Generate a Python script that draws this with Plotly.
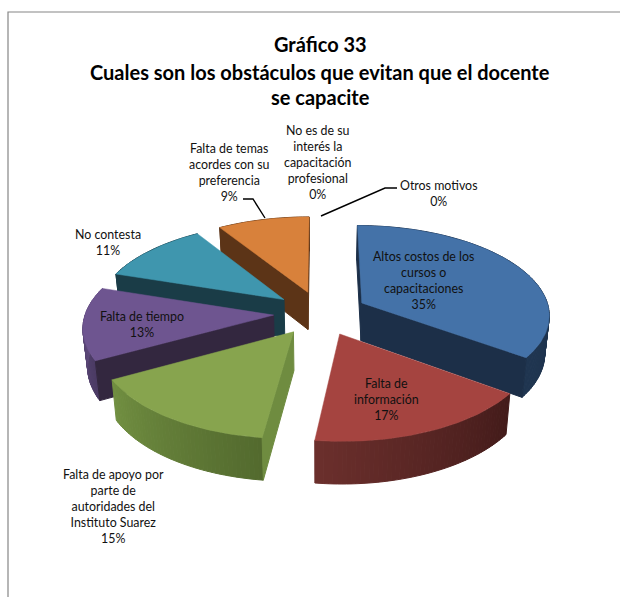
import numpy as np
import plotly.graph_objects as go

# Survey shares, clockwise from twelve o'clock
categories = [
    "Altos costos de los<br>cursos o<br>capacitaciones",
    "Falta de<br>información",
    "Falta de apoyo por<br>parte de<br>autoridades del<br>Instituto Suarez",
    "Falta de tiempo",
    "No contesta",
    "Falta de temas<br>acordes con su<br>preferencia",
    "No es de su<br>interés la<br>capacitación<br>profesional",
    "Otros motivos",
]
values = [35, 17, 15, 13, 11, 9, 0, 0]
top_colors = ["#4472a8", "#a54440", "#87a44e", "#6e5590", "#3f96ae", "#d8813b"]
side_colors = ["#1c2f48", "#47201e", "#6f8c40", "#33273f", "#1a3c47", "#5c3417"]
wall_dark = ["#1c2f48", "#431b1a", "#536a2e", "#4a3a63", "#1a3c47", "#5c3417"]
wall_light = ["#1f3550", "#6b2f2c", "#718f41", "#6a5289", "#1a3c47", "#5c3417"]

# Label anchor centres in page pixels
label_xy = [(423, 280), (386, 399), (113, 506), (142, 324), (108, 242), (229, 172), (318, 162), (439, 193)]

# Pie projection
CX, CY = 320.5, 313
SCALE_X, SCALE_Y = 188, 89
PERSPECTIVE = 0.12
EXPLODE = 0.25
DEPTH = 38


def project(X, Z, lower=False):
    s = 1 / (1 - PERSPECTIVE * np.asarray(Z, dtype=float))
    x = np.asarray(X, dtype=float) * SCALE_X * s
    y = np.asarray(Z, dtype=float) * SCALE_Y * s
    if lower:
        return CX + x * 0.98, CY + y * 0.985 + DEPTH * s
    return CX + x, CY + y


def mix(a, b, t):
    ca = [int(a[i:i + 2], 16) for i in (1, 3, 5)]
    cb = [int(b[i:i + 2], 16) for i in (1, 3, 5)]
    return "rgb(%d,%d,%d)" % tuple(round(p + (q - p) * t) for p, q in zip(ca, cb))


def poly(xs, ys, color, width=1.0):
    return go.Scatter(
        x=list(xs) + [xs[0]], y=list(ys) + [ys[0]], mode="lines", fill="toself",
        fillcolor=color, line=dict(color=color, width=width), hoverinfo="skip", showlegend=False,
    )


def signed_area(xs, ys):
    xs, ys = np.asarray(xs), np.asarray(ys)
    return 0.5 * np.sum(xs * np.roll(ys, -1) - np.roll(xs, -1) * ys)


# Angular extent of every non-empty slice
total = sum(values)
edges = np.cumsum([0] + values) / total * 2 * np.pi
slices = {}
for i, v in enumerate(values):
    if v == 0:
        continue
    a0, a1 = edges[i], edges[i + 1]
    mid = (a0 + a1) / 2
    ox, oz = EXPLODE * np.sin(mid), -EXPLODE * np.cos(mid)
    t = np.linspace(a0, a1, max(int(v * 3), 12) + 1)
    slices[i] = (ox, oz, a0, a1, t)

fig = go.Figure()
paint_order = [5, 0, 4, 3, 1, 2]  # far slices first, near ones over them
for i in paint_order:
    ox, oz, a0, a1, t = slices[i]
    X = ox + np.sin(t)
    Z = oz - np.cos(t)
    ux, uy = project(X, Z)
    lx, ly = project(X, Z, lower=True)

    # curved outer wall, shaded strip by strip
    for k in range(len(t) - 1):
        f = k / (len(t) - 2)
        fig.add_trace(poly(
            [ux[k], ux[k + 1], lx[k + 1], lx[k]],
            [uy[k], uy[k + 1], ly[k + 1], ly[k]],
            mix(wall_dark[i], wall_light[i], f),
        ))

    # flat cut faces, kept only when they face the viewer
    ax, ay = project(ox, oz)
    bx, by = project(ox, oz, lower=True)
    cut_a = ([ax, ux[0], lx[0], bx], [ay, uy[0], ly[0], by])
    cut_b = ([ux[-1], ax, bx, lx[-1]], [uy[-1], ay, by, ly[-1]])
    for qx, qy in (cut_a, cut_b):
        if signed_area(qx, qy) < 0:
            fig.add_trace(poly(qx, qy, side_colors[i]))

    # top face
    fig.add_trace(poly([ax] + list(ux), [ay] + list(uy), top_colors[i], width=0.5))

# Leader lines for the labels set away from their slices
leaders = [([243, 253, 265], [199, 199, 218]), ([321, 385, 397], [216, 188, 188])]
for lx_, ly_ in leaders:
    fig.add_trace(go.Scatter(x=lx_, y=ly_, mode="lines", line=dict(color="#000000", width=1.4),
                             hoverinfo="skip", showlegend=False))

for name, v, (x, y) in zip(categories, values, label_xy):
    fig.add_annotation(x=x, y=y, text=f"{name}<br>{v}%", showarrow=False, align="center",
                       font=dict(family="Lato, Carlito, sans-serif", size=12.4, color="#111111"))

for text, y in (("Gráfico 33", 44), ("Cuales son los obstáculos que evitan que el docente", 72), ("se capacite", 97)):
    fig.add_annotation(x=320, y=y, text=f"<b>{text}</b>", showarrow=False,
                       font=dict(family="Lato, Carlito, sans-serif", size=20, color="#000000"))

fig.update_layout(
    width=620, height=597, margin=dict(l=0, r=0, t=0, b=0),
    paper_bgcolor="white", plot_bgcolor="white", showlegend=False,
    xaxis=dict(range=[0, 620], visible=False, fixedrange=True),
    yaxis=dict(range=[597, 0], visible=False, fixedrange=True),
    # chart frame
    shapes=[dict(type="path", path="M 8 597 L 8 12 L 620 12", line=dict(color="#868686", width=1.2))],
)
fig.write_html("out.html")
